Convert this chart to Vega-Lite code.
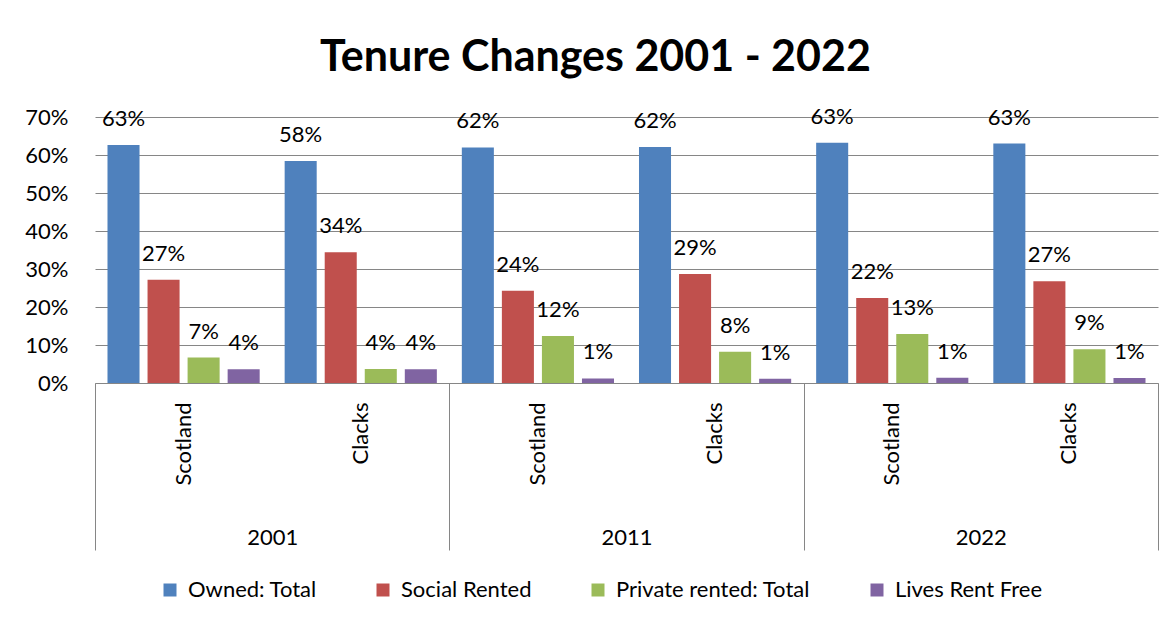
{
  "$schema": "https://vega.github.io/schema/vega-lite/v6.json",
  "width": 1063,
  "height": 266,
  "autosize": {"type": "none"},
  "padding": {"left": 95, "top": 117, "right": 15, "bottom": 241},
  "background": "white",
  "config": {
    "font": "Lato",
    "view": {"stroke": null},
    "axis": {"labelColor": "black", "labelFont": "Lato", "labelFontSize": 22, "title": null, "labelOverlap": false},
    "legend": {"labelFont": "Lato", "labelFontSize": 22, "labelColor": "black", "labelLimit": 0}
  },
  "title": {
    "text": "Tenure Changes 2001 - 2022",
    "fontSize": 43,
    "fontWeight": "bold",
    "font": "Lato",
    "color": "black",
    "anchor": "middle",
    "offset": 26,
    "dx": -31
  },
  "data": {
    "values": [
      {"cat": "2001 Scotland", "year": "2001", "series": "Owned: Total", "value": 0.626},
      {"cat": "2001 Scotland", "year": "2001", "series": "Social Rented", "value": 0.272},
      {"cat": "2001 Scotland", "year": "2001", "series": "Private rented: Total", "value": 0.067},
      {"cat": "2001 Scotland", "year": "2001", "series": "Lives Rent Free", "value": 0.036},
      {"cat": "2001 Clacks", "year": "2001", "series": "Owned: Total", "value": 0.584},
      {"cat": "2001 Clacks", "year": "2001", "series": "Social Rented", "value": 0.344},
      {"cat": "2001 Clacks", "year": "2001", "series": "Private rented: Total", "value": 0.037},
      {"cat": "2001 Clacks", "year": "2001", "series": "Lives Rent Free", "value": 0.036},
      {"cat": "2011 Scotland", "year": "2011", "series": "Owned: Total", "value": 0.62},
      {"cat": "2011 Scotland", "year": "2011", "series": "Social Rented", "value": 0.243},
      {"cat": "2011 Scotland", "year": "2011", "series": "Private rented: Total", "value": 0.124},
      {"cat": "2011 Scotland", "year": "2011", "series": "Lives Rent Free", "value": 0.012},
      {"cat": "2011 Clacks", "year": "2011", "series": "Owned: Total", "value": 0.621},
      {"cat": "2011 Clacks", "year": "2011", "series": "Social Rented", "value": 0.287},
      {"cat": "2011 Clacks", "year": "2011", "series": "Private rented: Total", "value": 0.082},
      {"cat": "2011 Clacks", "year": "2011", "series": "Lives Rent Free", "value": 0.011},
      {"cat": "2022 Scotland", "year": "2022", "series": "Owned: Total", "value": 0.632},
      {"cat": "2022 Scotland", "year": "2022", "series": "Social Rented", "value": 0.224},
      {"cat": "2022 Scotland", "year": "2022", "series": "Private rented: Total", "value": 0.129},
      {"cat": "2022 Scotland", "year": "2022", "series": "Lives Rent Free", "value": 0.014},
      {"cat": "2022 Clacks", "year": "2022", "series": "Owned: Total", "value": 0.63},
      {"cat": "2022 Clacks", "year": "2022", "series": "Social Rented", "value": 0.268},
      {"cat": "2022 Clacks", "year": "2022", "series": "Private rented: Total", "value": 0.089},
      {"cat": "2022 Clacks", "year": "2022", "series": "Lives Rent Free", "value": 0.013}
    ]
  },
  "layer": [
    {
      "encoding": {
        "x": {
          "field": "cat",
          "type": "nominal",
          "sort": null,
          "scale": {"paddingInner": 0.141, "paddingOuter": 0.0705},
          "axis": {
            "orient": "bottom",
            "labelAngle": -90,
            "labelExpr": "split(datum.label, ' ')[1]",
            "domain": false,
            "ticks": false,
            "labelPadding": 19
          }
        },
        "xOffset": {
          "field": "series",
          "type": "nominal",
          "sort": ["Owned: Total", "Social Rented", "Private rented: Total", "Lives Rent Free"],
          "scale": {"paddingInner": 0.2, "paddingOuter": 0}
        },
        "y": {
          "field": "value",
          "type": "quantitative",
          "scale": {"domain": [0, 0.7], "nice": false},
          "axis": {
            "values": [0, 0.1, 0.2, 0.3, 0.4, 0.5, 0.6, 0.7],
            "format": ".0%",
            "domain": false,
            "ticks": false,
            "labelPadding": 27,
            "labelOverlap": false,
            "grid": true,
            "gridColor": "#868686",
            "gridWidth": 1
          }
        }
      },
      "layer": [
        {
          "mark": {"type": "bar"},
          "encoding": {
            "color": {
              "field": "series",
              "type": "nominal",
              "sort": ["Owned: Total", "Social Rented", "Private rented: Total", "Lives Rent Free"],
              "scale": {
                "domain": ["Owned: Total", "Social Rented", "Private rented: Total", "Lives Rent Free"],
                "range": ["#4F81BD", "#C0504D", "#9BBB59", "#8064A2"]
              },
              "legend": {
                "title": null,
                "orient": "none",
                "direction": "horizontal",
                "legendX": 64,
                "legendY": 462,
                "symbolType": "square",
                "symbolSize": 169,
                "symbolStrokeWidth": 0,
                "labelOffset": 7,
                "columnPadding": 55,
                "labelLimit": 0
              }
            }
          }
        },
        {
          "mark": {"type": "text", "fontSize": 22, "baseline": "middle", "dy": -26, "color": "black"},
          "encoding": {
            "text": {"field": "value", "type": "quantitative", "format": ".0%"}
          }
        }
      ]
    },
    {
      "mark": {"type": "bar", "opacity": 0},
      "encoding": {
        "x": {
          "field": "year",
          "type": "nominal",
          "scale": {"paddingInner": 0, "paddingOuter": 0},
          "axis": {
            "orient": "bottom",
            "labelAngle": 0,
            "domain": true,
            "domainColor": "#868686",
            "ticks": true,
            "tickBand": "extent",
            "tickSize": 167,
            "tickColor": "#868686",
            "labelPadding": -23,
            "labelBaseline": "top"
          }
        }
      }
    }
  ],
  "resolve": {"scale": {"x": "independent"}}
}
